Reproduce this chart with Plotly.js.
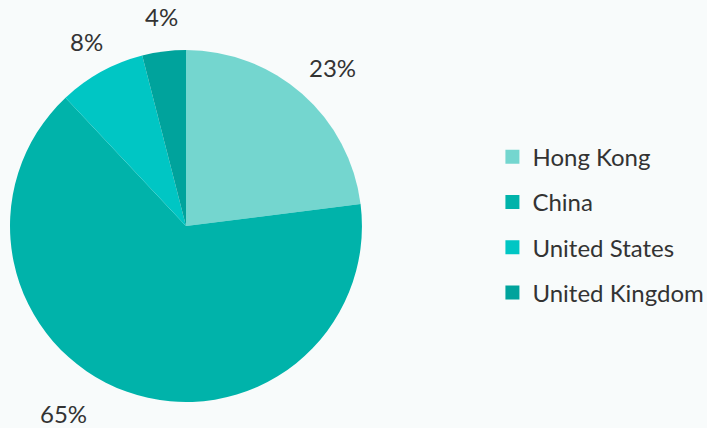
<!DOCTYPE html>
<html>
<head>
<meta charset="utf-8">
<script src="https://cdn.plot.ly/plotly-3.0.1.min.js"></script>
<style>html,body{margin:0;padding:0;background:#f8fbfb;}#chart{width:707px;height:428px;}</style>
</head>
<body>
<div id="chart"></div>
<script>
const categories = ["Hong Kong", "China", "United States", "United Kingdom"];
const values = [23, 65, 8, 4];
const colors = ["#74D6CF", "#00B3AA", "#00C6C4", "#00A39C"];

const FONT = "Lato, 'Noto Sans', sans-serif";
const W = 707, H = 428;
const dom = {x: [0.0141, 0.512], y: [0.0607, 0.883]};

const traces = [{
  type: "pie",
  labels: categories,
  values: values,
  sort: false,
  direction: "clockwise",
  rotation: 0,
  marker: {colors: colors, line: {width: 0}},
  textinfo: "none",
  showlegend: false,
  hoverinfo: "label+percent",
  domain: dom
}];

categories.forEach((c, i) => {
  traces.push({
    type: "scatter",
    mode: "markers",
    x: [null], y: [null],
    name: c,
    legendgroup: "g" + i,
    marker: {symbol: "square", size: 14, color: colors[i]},
    showlegend: true,
    hoverinfo: "skip"
  });
});

// percent labels outside the pie, at each slice's mid-angle
const total = values.reduce((a, b) => a + b, 0);
const cx = (dom.x[0] + dom.x[1]) / 2 * W;
const cy = (1 - (dom.y[0] + dom.y[1]) / 2) * H;
const r = Math.min((dom.x[1] - dom.x[0]) * W, (dom.y[1] - dom.y[0]) * H) / 2;
const d = 1.2 * r;
const yMax = H - 15;
let cum = 0;
const annotations = values.map((v, i) => {
  const mid = (cum + v / 2) / total * 2 * Math.PI;
  cum += v;
  let px = cx + d * Math.sin(mid);
  let py = cy - d * Math.cos(mid);
  if (py > yMax) {
    py = yMax;
    const dy = yMax - cy;
    px = cx + Math.sign(Math.sin(mid)) * Math.sqrt(Math.max(d * d - dy * dy, 0)) - 26;
  }
  return {
    xref: "paper", yref: "paper",
    x: px / W, y: 1 - py / H,
    xanchor: "center", yanchor: "middle",
    xshift: Math.sin(mid) > 0 ? 7 : 2,
    text: Math.round(v / total * 100) + "%",
    showarrow: false,
    font: {family: FONT, size: 24, color: "#333333"}
  };
});

const layout = {
  width: W, height: H,
  margin: {l: 0, r: 0, t: 0, b: 0, autoexpand: false},
  paper_bgcolor: "#f8fbfb",
  plot_bgcolor: "rgba(0,0,0,0)",
  xaxis: {visible: false, domain: [0.9, 1]},
  yaxis: {visible: false, domain: [0.9, 1]},
  showlegend: true,
  annotations: annotations,
  legend: {
    x: 0.6965, y: 0.475, xanchor: "left", yanchor: "middle",
    font: {family: FONT, size: 24, color: "#333333"},
    bgcolor: "rgba(0,0,0,0)",
    tracegroupgap: 11,
    itemwidth: 30
  }
};

Plotly.newPlot("chart", traces, layout, {displayModeBar: false, staticPlot: true});
</script>
</body>
</html>
